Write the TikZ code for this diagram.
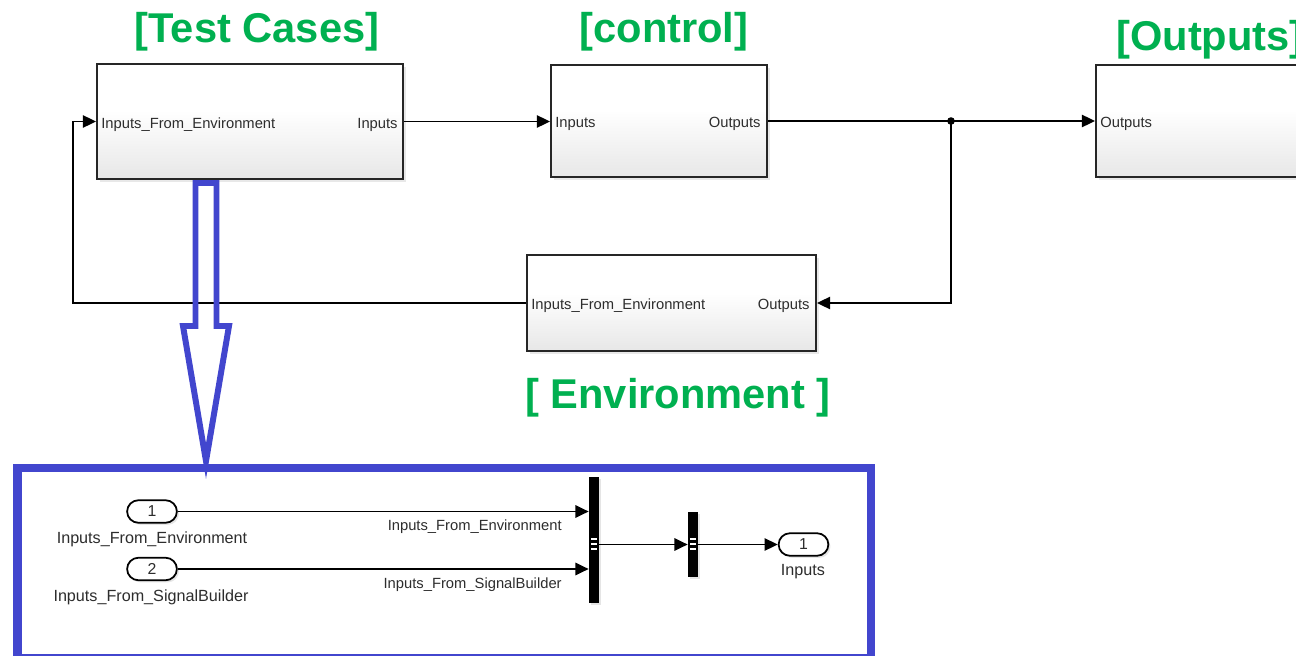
\documentclass[tikz,border=0pt]{standalone}
\usepackage{fontspec}
\setmainfont{Liberation Sans}
\usetikzlibrary{arrows.meta,shadows,fit,calc}
\definecolor{titlegreen}{RGB}{0,176,80}
\definecolor{frameblue}{RGB}{66,70,206}
\definecolor{textgray}{RGB}{45,45,45}
\pgfdeclareverticalshading{blockshade}{100bp}{color(0bp)=(black!18); color(20bp)=(black!11); color(55bp)=(white); color(100bp)=(white)}
\tikzset{
  blockbox/.style={draw=black!85, line width=1.1pt, shading=blockshade, inner sep=0pt,
    drop shadow={shadow xshift=1.6pt, shadow yshift=-1.6pt, opacity=0.18}},
  portlbl/.style={font=\fontsize{8.4}{9}\selectfont, text=textgray, inner sep=0pt},
  sublbl/.style={font=\fontsize{8.4}{10}\selectfont, text=textgray, inner sep=0pt},
  undlbl/.style={font=\fontsize{9.2}{10}\selectfont, text=textgray, inner sep=0pt},
  title/.style={font=\fontsize{23.7}{26}\selectfont\bfseries, text=titlegreen, inner sep=0pt},
  sig/.style={line width=1pt, -{Triangle[length=7.5pt,width=7pt]}},
  wire/.style={line width=1pt},
  portoval/.style={draw=black, line width=1pt, fill=white, rounded corners=6.4pt,
    minimum width=28.3pt, minimum height=12.8pt, inner sep=0pt,
    font=\fontsize{9}{10}\selectfont, text=textgray,
    drop shadow={shadow xshift=1.2pt, shadow yshift=-1.2pt, opacity=0.2}},
  muxbar/.style={fill=black, inner sep=0pt,
    drop shadow={shadow xshift=1.4pt, shadow yshift=-1.4pt, opacity=0.2}},
}
\begin{document}
\begin{tikzpicture}[x=0.02cm, y=-0.02cm]
\path[use as bounding box] (0,0) rectangle (1296,656);
\clip (0,0) rectangle (1296,656);
\fill[white] (0,0) rectangle (1296,656);

% ---- top-level model ----
\node[blockbox, fit={(97,64) (403,179)}] (tc) {};
\node[blockbox, fit={(551,65) (767,177)}] (ctl) {};
\node[blockbox, fit={(1096,65) (1420,177)}] (outb) {};
\node[blockbox, fit={(527,255) (816,351)}] (env) {};

\node[portlbl, anchor=mid west] at ($(tc.west)+(5,2)$) {Inputs\_From\_Environment};
\node[portlbl, anchor=mid east] at ($(tc.east)+(-6,2)$) {Inputs};
\node[portlbl, anchor=mid west] at ($(ctl.west)+(5,2)$) {Inputs};
\node[portlbl, anchor=mid east] at ($(ctl.east)+(-7,2)$) {Outputs};
\node[portlbl, anchor=mid west] at ($(outb.west)+(5,2)$) {Outputs};
\node[portlbl, anchor=mid west] at ($(env.west)+(5,2)$) {Inputs\_From\_Environment};
\node[portlbl, anchor=mid east] at ($(env.east)+(-7,2)$) {Outputs};

\node[title] (ttc) at (257,32) {[Test Cases]};
\node[title] (tctl) at (664,32) {[control]};
\node[title, anchor=west] (tout) at (1116,40) {[Outputs]};
\node[title] (tenv) at (678,398) {[ Environment ]};

\coordinate (j) at (951,121);
\coordinate (fb) at (73,303);
\draw[sig] (tc.east) -- (tc.east -| ctl.west);
\draw[wire] (ctl.east) -- (j);
\draw[sig] (j) -- (j -| outb.west);
\draw[sig] (j) |- (env.east);
\draw[sig] (env.west) -- (fb) |- (tc.west);
\fill (j) circle (3.8);

% ---- hollow arrow into the subsystem ----
\draw[frameblue, line width=3.4pt, line join=miter]
  (195.5,183) -- (216.5,183) -- (216.5,326) -- (229,326) -- (206,461)
  -- (183,326) -- (195.5,326) -- cycle;

% ---- subsystem contents ----
\draw[frameblue, line width=4.6pt] (17.5,468) rectangle (871,658);

\node[portoval] (in1) at (152,511.5) {1};
\node[portoval] (in2) at (152,569) {2};
\node[portoval] (outp) at (803.5,544.5) {1};
\node[undlbl] at (152,539) {Inputs\_From\_Environment};
\node[undlbl] at (151,597) {Inputs\_From\_SignalBuilder};
\node[undlbl] at (803,572) {Inputs};

\node[muxbar, fit={(589,477) (599,603)}] (mux) {};
\node[muxbar, fit={(688,512) (698,577)}] (dmx) {};
\foreach \yy in {539,544,549} {
  \draw[white, line width=1.5pt] (591,\yy) -- (597,\yy);
  \draw[white, line width=1.5pt] (690,\yy) -- (696,\yy);
}

\draw[sig] (in1.east) -- (in1.east -| mux.west);
\draw[sig] (in2.east) -- (in2.east -| mux.west);
\coordinate (mo) at (599,544.5);
\draw[sig] (mo) -- (mo -| dmx.west);
\draw[sig] (mo -| dmx.east) -- (outp.west);

\node[sublbl, anchor=mid east] at (562,526) {Inputs\_From\_Environment};
\node[sublbl, anchor=mid east] at (562,584) {Inputs\_From\_SignalBuilder};
\end{tikzpicture}
\end{document}
